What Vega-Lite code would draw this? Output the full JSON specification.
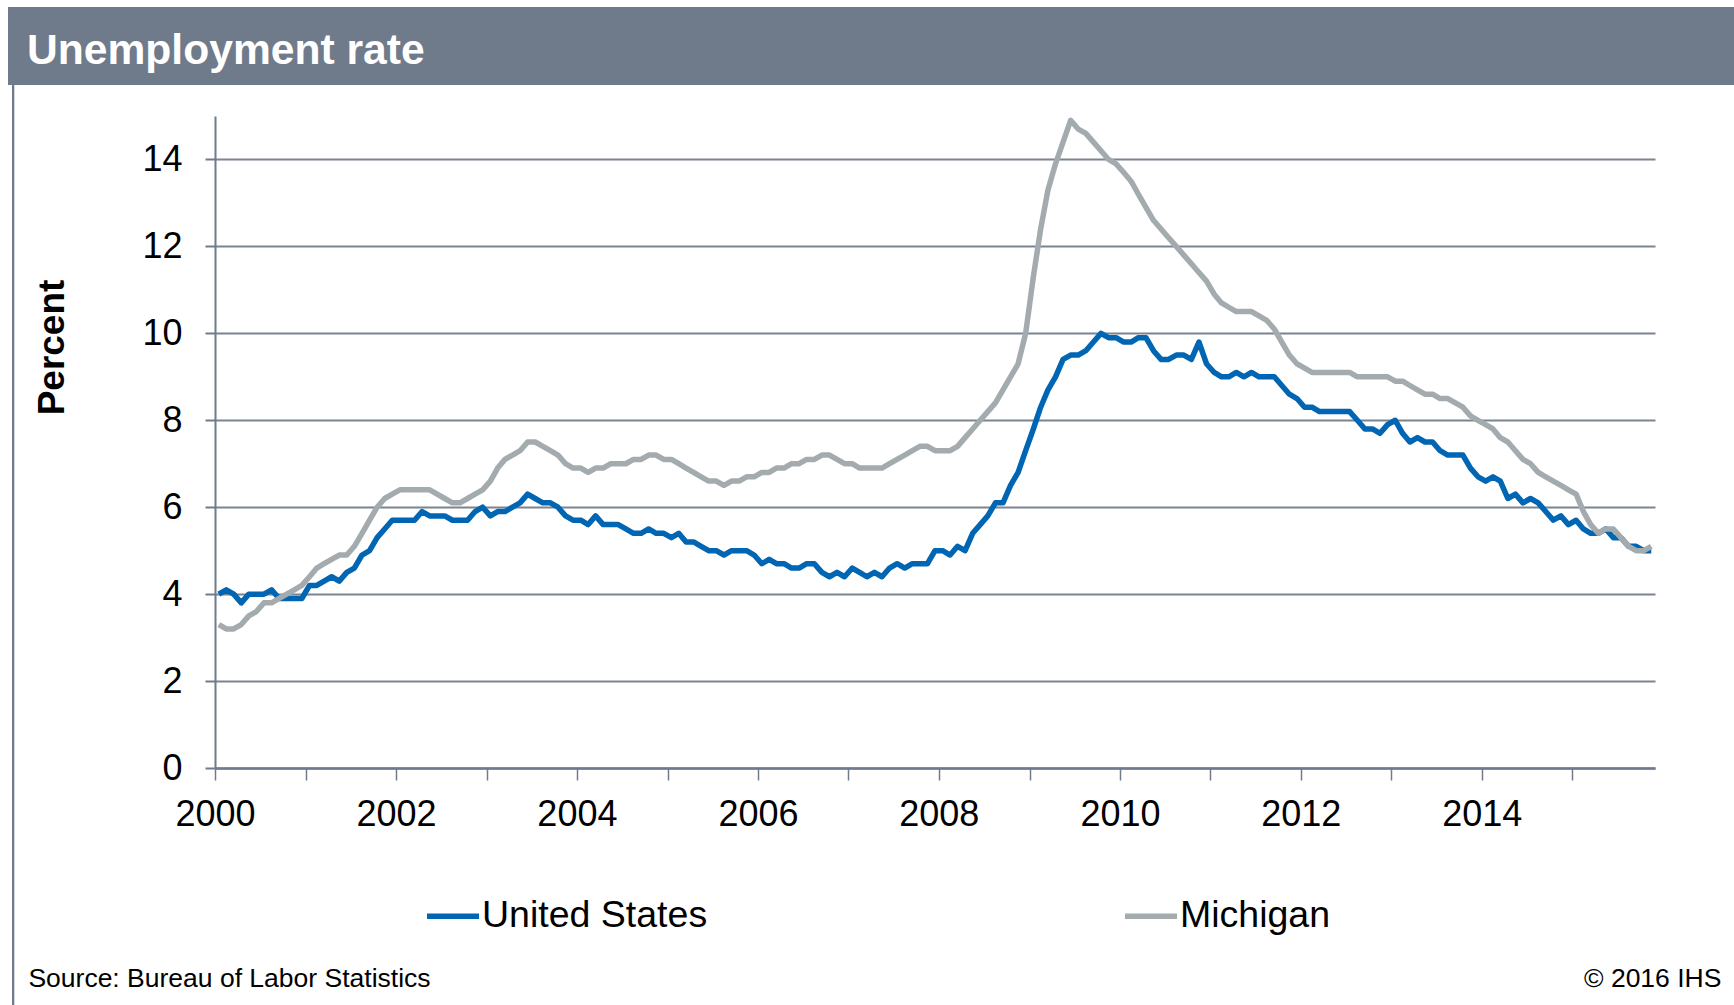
{
 "$schema": "https://vega.github.io/schema/vega-lite/v6.json",
 "padding": {"left": 8, "top": 7, "right": 0, "bottom": 0},
 "background": "white",
 "bounds": "flush",
 "spacing": 0,
 "config": {"view": {"stroke": null}, "font": "Liberation Sans"},
 "datasets": {"unemp": [
{"d":"2000-01","United States":4.0,"Michigan":3.3},{"d":"2000-02","United States":4.1,"Michigan":3.2},{"d":"2000-03","United States":4.0,"Michigan":3.2},{"d":"2000-04","United States":3.8,"Michigan":3.3},{"d":"2000-05","United States":4.0,"Michigan":3.5},{"d":"2000-06","United States":4.0,"Michigan":3.6},{"d":"2000-07","United States":4.0,"Michigan":3.8},{"d":"2000-08","United States":4.1,"Michigan":3.8},{"d":"2000-09","United States":3.9,"Michigan":3.9},{"d":"2000-10","United States":3.9,"Michigan":4.0},{"d":"2000-11","United States":3.9,"Michigan":4.1},{"d":"2000-12","United States":3.9,"Michigan":4.2},
{"d":"2001-01","United States":4.2,"Michigan":4.4},{"d":"2001-02","United States":4.2,"Michigan":4.6},{"d":"2001-03","United States":4.3,"Michigan":4.7},{"d":"2001-04","United States":4.4,"Michigan":4.8},{"d":"2001-05","United States":4.3,"Michigan":4.9},{"d":"2001-06","United States":4.5,"Michigan":4.9},{"d":"2001-07","United States":4.6,"Michigan":5.1},{"d":"2001-08","United States":4.9,"Michigan":5.4},{"d":"2001-09","United States":5.0,"Michigan":5.7},{"d":"2001-10","United States":5.3,"Michigan":6.0},{"d":"2001-11","United States":5.5,"Michigan":6.2},{"d":"2001-12","United States":5.7,"Michigan":6.3},
{"d":"2002-01","United States":5.7,"Michigan":6.4},{"d":"2002-02","United States":5.7,"Michigan":6.4},{"d":"2002-03","United States":5.7,"Michigan":6.4},{"d":"2002-04","United States":5.9,"Michigan":6.4},{"d":"2002-05","United States":5.8,"Michigan":6.4},{"d":"2002-06","United States":5.8,"Michigan":6.3},{"d":"2002-07","United States":5.8,"Michigan":6.2},{"d":"2002-08","United States":5.7,"Michigan":6.1},{"d":"2002-09","United States":5.7,"Michigan":6.1},{"d":"2002-10","United States":5.7,"Michigan":6.2},{"d":"2002-11","United States":5.9,"Michigan":6.3},{"d":"2002-12","United States":6.0,"Michigan":6.4},
{"d":"2003-01","United States":5.8,"Michigan":6.6},{"d":"2003-02","United States":5.9,"Michigan":6.9},{"d":"2003-03","United States":5.9,"Michigan":7.1},{"d":"2003-04","United States":6.0,"Michigan":7.2},{"d":"2003-05","United States":6.1,"Michigan":7.3},{"d":"2003-06","United States":6.3,"Michigan":7.5},{"d":"2003-07","United States":6.2,"Michigan":7.5},{"d":"2003-08","United States":6.1,"Michigan":7.4},{"d":"2003-09","United States":6.1,"Michigan":7.3},{"d":"2003-10","United States":6.0,"Michigan":7.2},{"d":"2003-11","United States":5.8,"Michigan":7.0},{"d":"2003-12","United States":5.7,"Michigan":6.9},
{"d":"2004-01","United States":5.7,"Michigan":6.9},{"d":"2004-02","United States":5.6,"Michigan":6.8},{"d":"2004-03","United States":5.8,"Michigan":6.9},{"d":"2004-04","United States":5.6,"Michigan":6.9},{"d":"2004-05","United States":5.6,"Michigan":7.0},{"d":"2004-06","United States":5.6,"Michigan":7.0},{"d":"2004-07","United States":5.5,"Michigan":7.0},{"d":"2004-08","United States":5.4,"Michigan":7.1},{"d":"2004-09","United States":5.4,"Michigan":7.1},{"d":"2004-10","United States":5.5,"Michigan":7.2},{"d":"2004-11","United States":5.4,"Michigan":7.2},{"d":"2004-12","United States":5.4,"Michigan":7.1},
{"d":"2005-01","United States":5.3,"Michigan":7.1},{"d":"2005-02","United States":5.4,"Michigan":7.0},{"d":"2005-03","United States":5.2,"Michigan":6.9},{"d":"2005-04","United States":5.2,"Michigan":6.8},{"d":"2005-05","United States":5.1,"Michigan":6.7},{"d":"2005-06","United States":5.0,"Michigan":6.6},{"d":"2005-07","United States":5.0,"Michigan":6.6},{"d":"2005-08","United States":4.9,"Michigan":6.5},{"d":"2005-09","United States":5.0,"Michigan":6.6},{"d":"2005-10","United States":5.0,"Michigan":6.6},{"d":"2005-11","United States":5.0,"Michigan":6.7},{"d":"2005-12","United States":4.9,"Michigan":6.7},
{"d":"2006-01","United States":4.7,"Michigan":6.8},{"d":"2006-02","United States":4.8,"Michigan":6.8},{"d":"2006-03","United States":4.7,"Michigan":6.9},{"d":"2006-04","United States":4.7,"Michigan":6.9},{"d":"2006-05","United States":4.6,"Michigan":7.0},{"d":"2006-06","United States":4.6,"Michigan":7.0},{"d":"2006-07","United States":4.7,"Michigan":7.1},{"d":"2006-08","United States":4.7,"Michigan":7.1},{"d":"2006-09","United States":4.5,"Michigan":7.2},{"d":"2006-10","United States":4.4,"Michigan":7.2},{"d":"2006-11","United States":4.5,"Michigan":7.1},{"d":"2006-12","United States":4.4,"Michigan":7.0},
{"d":"2007-01","United States":4.6,"Michigan":7.0},{"d":"2007-02","United States":4.5,"Michigan":6.9},{"d":"2007-03","United States":4.4,"Michigan":6.9},{"d":"2007-04","United States":4.5,"Michigan":6.9},{"d":"2007-05","United States":4.4,"Michigan":6.9},{"d":"2007-06","United States":4.6,"Michigan":7.0},{"d":"2007-07","United States":4.7,"Michigan":7.1},{"d":"2007-08","United States":4.6,"Michigan":7.2},{"d":"2007-09","United States":4.7,"Michigan":7.3},{"d":"2007-10","United States":4.7,"Michigan":7.4},{"d":"2007-11","United States":4.7,"Michigan":7.4},{"d":"2007-12","United States":5.0,"Michigan":7.3},
{"d":"2008-01","United States":5.0,"Michigan":7.3},{"d":"2008-02","United States":4.9,"Michigan":7.3},{"d":"2008-03","United States":5.1,"Michigan":7.4},{"d":"2008-04","United States":5.0,"Michigan":7.6},{"d":"2008-05","United States":5.4,"Michigan":7.8},{"d":"2008-06","United States":5.6,"Michigan":8.0},{"d":"2008-07","United States":5.8,"Michigan":8.2},{"d":"2008-08","United States":6.1,"Michigan":8.4},{"d":"2008-09","United States":6.1,"Michigan":8.7},{"d":"2008-10","United States":6.5,"Michigan":9.0},{"d":"2008-11","United States":6.8,"Michigan":9.3},{"d":"2008-12","United States":7.3,"Michigan":10.0},
{"d":"2009-01","United States":7.8,"Michigan":11.3},{"d":"2009-02","United States":8.3,"Michigan":12.4},{"d":"2009-03","United States":8.7,"Michigan":13.3},{"d":"2009-04","United States":9.0,"Michigan":13.9},{"d":"2009-05","United States":9.4,"Michigan":14.4},{"d":"2009-06","United States":9.5,"Michigan":14.9},{"d":"2009-07","United States":9.5,"Michigan":14.7},{"d":"2009-08","United States":9.6,"Michigan":14.6},{"d":"2009-09","United States":9.8,"Michigan":14.4},{"d":"2009-10","United States":10.0,"Michigan":14.2},{"d":"2009-11","United States":9.9,"Michigan":14.0},{"d":"2009-12","United States":9.9,"Michigan":13.9},
{"d":"2010-01","United States":9.8,"Michigan":13.7},{"d":"2010-02","United States":9.8,"Michigan":13.5},{"d":"2010-03","United States":9.9,"Michigan":13.2},{"d":"2010-04","United States":9.9,"Michigan":12.9},{"d":"2010-05","United States":9.6,"Michigan":12.6},{"d":"2010-06","United States":9.4,"Michigan":12.4},{"d":"2010-07","United States":9.4,"Michigan":12.2},{"d":"2010-08","United States":9.5,"Michigan":12.0},{"d":"2010-09","United States":9.5,"Michigan":11.8},{"d":"2010-10","United States":9.4,"Michigan":11.6},{"d":"2010-11","United States":9.8,"Michigan":11.4},{"d":"2010-12","United States":9.3,"Michigan":11.2},
{"d":"2011-01","United States":9.1,"Michigan":10.9},{"d":"2011-02","United States":9.0,"Michigan":10.7},{"d":"2011-03","United States":9.0,"Michigan":10.6},{"d":"2011-04","United States":9.1,"Michigan":10.5},{"d":"2011-05","United States":9.0,"Michigan":10.5},{"d":"2011-06","United States":9.1,"Michigan":10.5},{"d":"2011-07","United States":9.0,"Michigan":10.4},{"d":"2011-08","United States":9.0,"Michigan":10.3},{"d":"2011-09","United States":9.0,"Michigan":10.1},{"d":"2011-10","United States":8.8,"Michigan":9.8},{"d":"2011-11","United States":8.6,"Michigan":9.5},{"d":"2011-12","United States":8.5,"Michigan":9.3},
{"d":"2012-01","United States":8.3,"Michigan":9.2},{"d":"2012-02","United States":8.3,"Michigan":9.1},{"d":"2012-03","United States":8.2,"Michigan":9.1},{"d":"2012-04","United States":8.2,"Michigan":9.1},{"d":"2012-05","United States":8.2,"Michigan":9.1},{"d":"2012-06","United States":8.2,"Michigan":9.1},{"d":"2012-07","United States":8.2,"Michigan":9.1},{"d":"2012-08","United States":8.0,"Michigan":9.0},{"d":"2012-09","United States":7.8,"Michigan":9.0},{"d":"2012-10","United States":7.8,"Michigan":9.0},{"d":"2012-11","United States":7.7,"Michigan":9.0},{"d":"2012-12","United States":7.9,"Michigan":9.0},
{"d":"2013-01","United States":8.0,"Michigan":8.9},{"d":"2013-02","United States":7.7,"Michigan":8.9},{"d":"2013-03","United States":7.5,"Michigan":8.8},{"d":"2013-04","United States":7.6,"Michigan":8.7},{"d":"2013-05","United States":7.5,"Michigan":8.6},{"d":"2013-06","United States":7.5,"Michigan":8.6},{"d":"2013-07","United States":7.3,"Michigan":8.5},{"d":"2013-08","United States":7.2,"Michigan":8.5},{"d":"2013-09","United States":7.2,"Michigan":8.4},{"d":"2013-10","United States":7.2,"Michigan":8.3},{"d":"2013-11","United States":6.9,"Michigan":8.1},{"d":"2013-12","United States":6.7,"Michigan":8.0},
{"d":"2014-01","United States":6.6,"Michigan":7.9},{"d":"2014-02","United States":6.7,"Michigan":7.8},{"d":"2014-03","United States":6.6,"Michigan":7.6},{"d":"2014-04","United States":6.2,"Michigan":7.5},{"d":"2014-05","United States":6.3,"Michigan":7.3},{"d":"2014-06","United States":6.1,"Michigan":7.1},{"d":"2014-07","United States":6.2,"Michigan":7.0},{"d":"2014-08","United States":6.1,"Michigan":6.8},{"d":"2014-09","United States":5.9,"Michigan":6.7},{"d":"2014-10","United States":5.7,"Michigan":6.6},{"d":"2014-11","United States":5.8,"Michigan":6.5},{"d":"2014-12","United States":5.6,"Michigan":6.4},
{"d":"2015-01","United States":5.7,"Michigan":6.3},{"d":"2015-02","United States":5.5,"Michigan":5.9},{"d":"2015-03","United States":5.4,"Michigan":5.6},{"d":"2015-04","United States":5.4,"Michigan":5.4},{"d":"2015-05","United States":5.5,"Michigan":5.5},{"d":"2015-06","United States":5.3,"Michigan":5.5},{"d":"2015-07","United States":5.3,"Michigan":5.3},{"d":"2015-08","United States":5.1,"Michigan":5.1},{"d":"2015-09","United States":5.1,"Michigan":5.0},{"d":"2015-10","United States":5.0,"Michigan":5.0},{"d":"2015-11","United States":5.0,"Michigan":5.1}
 ]},
 "vconcat": [
  {
   "width": 1726, "height": 78,
   "view": {"fill": "#6f7b8a"},
   "data": {"values": [{"label": "Unemployment rate"}]},
   "mark": {"type": "text", "align": "left", "baseline": "alphabetic", "fontSize": 42.6, "fontWeight": "bold", "color": "#ffffff", "dx": 19, "dy": 18},
   "encoding": {
    "text": {"field": "label"},
    "x": {"datum": 0, "type": "quantitative", "scale": {"domain": [0, 1]}, "axis": null}
   }
  },
  {
   "bounds": "flush", "spacing": 0,
   "hconcat": [
    {"width": 3.5, "height": 10, "data": {"values": []}, "mark": "text"},
    {"width": 2.3, "height": 935, "view": {"fill": "#6f7b8a"}, "data": {"values": []}, "mark": "text"},
    {"width": 199.6, "height": 10, "data": {"values": []}, "mark": "text"},
    {
     "bounds": "flush", "spacing": 0,
     "vconcat": [
      {"width": 10, "height": 31, "data": {"values": []}, "mark": "text"},
      {
       "width": 1440, "height": 652,
       "data": {"name": "unemp"},
       "transform": [{"fold": ["United States", "Michigan"], "as": ["series", "rate"]}],
       "mark": {"type": "line", "strokeWidth": 5.5, "strokeJoin": "round"},
       "encoding": {
        "x": {
         "field": "d", "timeUnit": "utcyearmonth", "type": "temporal", "bandPosition": 0.5,
         "scale": {"domain": [{"year": 2000, "month": 1, "date": 1, "utc": true}, {"year": 2015, "month": 12, "date": 1, "utc": true}]},
         "axis": {
          "title": null, "grid": false,
          "tickCount": {"interval": "year", "step": 1},
          "labelExpr": "utcyear(datum.value) % 2 == 0 ? utcFormat(datum.value, '%Y') : ''",
          "domainColor": "#6f7b8a", "domainWidth": 2.5,
          "tickColor": "#6f7b8a", "tickWidth": 1.5, "tickSize": 12,
          "labelFontSize": 36, "labelColor": "#000000", "labelPadding": 17,
          "labelFlush": false, "labelOverlap": false, "labelBound": false
         }
        },
        "y": {
         "field": "rate", "type": "quantitative",
         "scale": {"domain": [0, 15], "nice": false},
         "axis": {
          "title": "Percent",
          "values": [0, 2, 4, 6, 8, 10, 12, 14],
          "grid": true, "gridColor": "#7b8491", "gridWidth": 2,
          "domainColor": "#6f7b8a", "domainWidth": 2,
          "tickColor": "#6f7b8a", "tickWidth": 2, "tickSize": 10,
          "labelFontSize": 36, "labelColor": "#000000", "labelPadding": 23, "labelFlush": false,
          "titleFontSize": 37, "titleFontWeight": "bold", "titleColor": "#000000",
          "titleX": -163, "titleY": 231, "titleAngle": 270, "titleAlign": "center", "titleBaseline": "middle"
         }
        },
        "color": {
         "field": "series", "type": "nominal",
         "scale": {"domain": ["United States", "Michigan"], "range": ["#0066b3", "#a4abaf"]},
         "legend": {
          "orient": "none", "legendX": 416, "legendY": 880,
          "direction": "horizontal", "columns": 2, "columnPadding": 406,
          "title": null, "symbolType": "stroke", "symbolStrokeWidth": 5.5, "symbolSize": 2704,
          "labelFontSize": 37.5, "labelColor": "#000000", "labelOffset": 0, "labelLimit": 500, "padding": 0
         }
        }
       }
      },
      {
       "width": 1506.4, "height": 242,
       "layer": [
        {
         "data": {"values": [{"t": "Source: Bureau of Labor Statistics"}]},
         "mark": {"type": "text", "align": "left", "baseline": "middle", "fontSize": 26.5, "color": "#000000", "dx": -186.6, "dy": 90},
         "encoding": {"text": {"field": "t"}, "x": {"datum": 0, "type": "quantitative", "scale": {"domain": [0, 1]}, "axis": null}}
        },
        {
         "data": {"values": [{"t": "© 2016 IHS"}]},
         "mark": {"type": "text", "align": "right", "baseline": "middle", "fontSize": 26.5, "color": "#000000", "dy": 90},
         "encoding": {"text": {"field": "t"}, "x": {"datum": 1, "type": "quantitative", "axis": null}}
        }
       ]
      }
     ]
    }
   ]
  }
 ]
}
